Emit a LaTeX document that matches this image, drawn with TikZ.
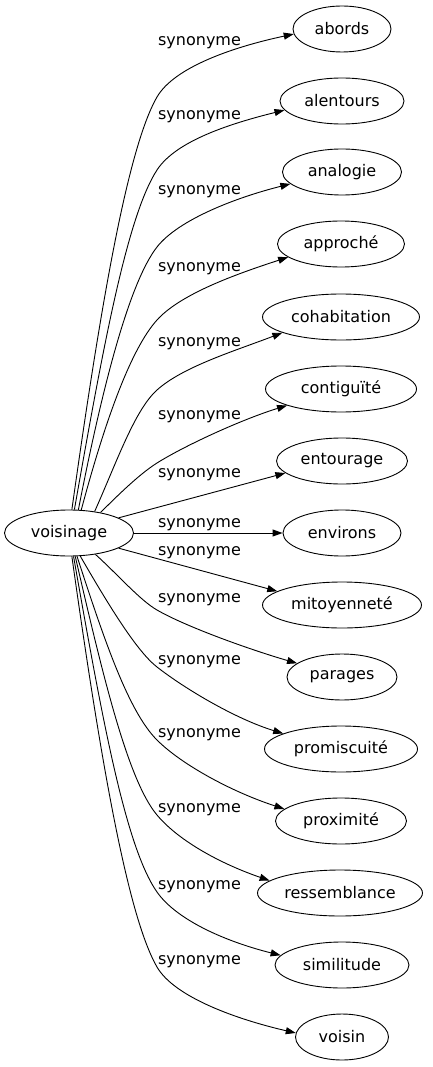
\documentclass[tikz,border=0pt]{standalone}
\usepackage{fontspec}
\setmainfont{DejaVu Sans}
\usetikzlibrary{shapes.geometric,arrows.meta}
\begin{document}
\begin{tikzpicture}[x=1pt,y=1pt,
  word/.style={ellipse,draw,line width=0.9pt,inner sep=0pt,minimum height=46pt,font=\fontsize{16}{19}\selectfont},
  lbl/.style={anchor=base,inner sep=0pt,font=\fontsize{16}{19}\selectfont},
  edge/.style={line width=0.9pt,-{Triangle[length=10pt,width=7pt]}}]
\useasboundingbox (0,0) rectangle (432,-1067);
% nodes
\node[word,minimum width=129pt] (v) at (69,-533) {voisinage};
\node[word,minimum width=98pt]  (t1)  at (342,-29)   {abords};
\node[word,minimum width=124pt] (t2)  at (342,-101)  {alentours};
\node[word,minimum width=119pt] (t3)  at (342,-172)  {analogie};
\node[word,minimum width=127pt] (t4)  at (341,-244)  {approché};
\node[word,minimum width=157pt] (t5)  at (341,-317)  {cohabitation};
\node[word,minimum width=151pt] (t6)  at (341,-389)  {contiguïté};
\node[word,minimum width=131pt] (t7)  at (342,-461)  {entourage};
\node[word,minimum width=118pt] (t8)  at (342,-533)  {environs};
\node[word,minimum width=159pt] (t9)  at (342,-605)  {mitoyenneté};
\node[word,minimum width=110pt] (t10) at (342,-677)  {parages};
\node[word,minimum width=153pt] (t11) at (341,-749)  {promiscuité};
\node[word,minimum width=131pt] (t12) at (341,-821)  {proximité};
\node[word,minimum width=165pt] (t13) at (340,-893)  {ressemblance};
\node[word,minimum width=134pt] (t14) at (342,-965)  {similitude};
\node[word,minimum width=93pt]  (t15) at (342,-1037) {voisin};
% bend points
\coordinate (m1) at (157,-97);
\coordinate (m2) at (157,-170);
\coordinate (m3) at (157,-247);
\coordinate (m4) at (157,-320);
\coordinate (m5) at (157,-390);
\coordinate (m6) at (157,-463);
\coordinate (m10) at (157,-610);
\coordinate (m11) at (157,-667);
\coordinate (m12) at (157,-740);
\coordinate (m13) at (157,-815);
\coordinate (m14) at (157,-892);
\coordinate (m15) at (157,-967);
% edges
\draw[edge] (v.83) to[out=82,in=240,out distance=200pt,in distance=60pt] (m1) to[out=60,in=192,out distance=35pt,in distance=60pt] (t1.186);
\draw[edge] (v.77) to[out=80,in=237,out distance=165pt,in distance=55pt] (m2) to[out=57,in=194,out distance=35pt,in distance=55pt] (t2.189);
\draw[edge] (v.68) to[out=79,in=232,out distance=125pt,in distance=45pt] (m3) to[out=52,in=194,out distance=35pt,in distance=55pt] (t3.193);
\draw[edge] (v.62) to[out=75,in=228,out distance=90pt,in distance=40pt] (m4) to[out=48,in=198,out distance=35pt,in distance=55pt] (t4.194);
\draw[edge] (v.40) to[out=66,in=222,out distance=55pt,in distance=30pt] (m5) to[out=42,in=201,out distance=35pt,in distance=50pt] (t5.195);
\draw[edge] (v.33) to[out=45,in=212,out distance=25pt,in distance=20pt] (m6) to[out=32,in=197,out distance=35pt,in distance=45pt] (t6.197);
\draw[edge] (v.17) -- (t7.192);
\draw[edge] (v) -- (t8);
\draw[edge] (v.-17) -- (t9.168);
\draw[edge] (v.-39) to[out=-42,in=150,out distance=30pt,in distance=20pt] (m10) to[out=-30,in=164,out distance=35pt,in distance=45pt] (t10.163);
\draw[edge] (v.-64) to[out=-60,in=142,out distance=60pt,in distance=25pt] (m11) to[out=-38,in=163,out distance=35pt,in distance=50pt] (t11.165);
\draw[edge] (v.-71) to[out=-72,in=135,out distance=90pt,in distance=40pt] (m12) to[out=-45,in=162,out distance=35pt,in distance=55pt] (t12.168);
\draw[edge] (v.-75) to[out=-77,in=130,out distance=125pt,in distance=45pt] (m13) to[out=-50,in=161,out distance=35pt,in distance=50pt] (t13.170);
\draw[edge] (v.-79) to[out=-80,in=125,out distance=165pt,in distance=55pt] (m14) to[out=-55,in=166,out distance=35pt,in distance=55pt] (t14.171);
\draw[edge] (v.-83) to[out=-82,in=120,out distance=200pt,in distance=60pt] (m15) to[out=-60,in=167,out distance=35pt,in distance=60pt] (t15.175);
% labels
\node[lbl] (l1)  at (199.5,-45.5)  {synonyme};
\node[lbl] (l2)  at (199.5,-119.5) {synonyme};
\node[lbl] (l3)  at (199.5,-194.5) {synonyme};
\node[lbl] (l4)  at (199.5,-271.5) {synonyme};
\node[lbl] (l5)  at (199.5,-346.5) {synonyme};
\node[lbl] (l6)  at (199.5,-419.5) {synonyme};
\node[lbl] (l7)  at (199.5,-477.5) {synonyme};
\node[lbl] (l8)  at (199.5,-527.5) {synonyme};
\node[lbl] (l9)  at (199.5,-555.5) {synonyme};
\node[lbl] (l10) at (199.5,-602.5) {synonyme};
\node[lbl] (l11) at (199.5,-664.5) {synonyme};
\node[lbl] (l12) at (199.5,-737.5) {synonyme};
\node[lbl] (l13) at (199.5,-812.5) {synonyme};
\node[lbl] (l14) at (199.5,-889.5) {synonyme};
\node[lbl] (l15) at (199.5,-964.5) {synonyme};
\end{tikzpicture}
\end{document}
